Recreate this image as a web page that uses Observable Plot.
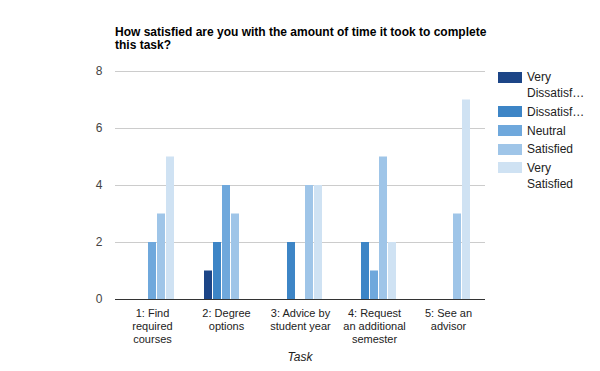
<!DOCTYPE html>
<html>
<head>
<meta charset="utf-8">
<script src="https://cdn.jsdelivr.net/npm/d3@7"></script>
<script src="https://cdn.jsdelivr.net/npm/@observablehq/plot@0.6"></script>
<style>
  html, body { margin: 0; padding: 0; background: #fff; }
  #wrap { position: relative; width: 600px; height: 371px; font-family: "Liberation Sans", Arial, sans-serif; }
  #wrap svg { position: absolute; left: 0; top: 0; }
  #title { position: absolute; left: 115px; top: 25.6px; width: 372px; font-size: 12px; font-weight: bold; line-height: 13.5px; color: #000; }
  #xlabel { position: absolute; left: 115px; width: 370px; top: 349.7px; text-align: center; font-size: 12px; font-style: italic; line-height: 14px; color: #222; }
  #legend { position: absolute; left: 498px; top: 69.2px; font-size: 12px; color: #222; }
  .item { display: flex; align-items: flex-start; line-height: 16px; margin-bottom: 2.7px; }
  .sw { width: 24px; height: 11px; margin-top: 2.5px; margin-right: 5px; flex: none; }
</style>
</head>
<body>
<div id="wrap">
  <div id="title"></div>
  <div id="xlabel"></div>
  <div id="legend"></div>
</div>
<script>
const titleText = "How satisfied are you with the amount of time it took to complete this task?";
const xTitle = "Task";
const tasks = ["1: Find required courses", "2: Degree options", "3: Advice by student year", "4: Request an additional semester", "5: See an advisor"];
const taskTickLabels = ["1: Find\nrequired\ncourses", "2: Degree\noptions", "3: Advice by\nstudent year", "4: Request\nan additional\nsemester", "5: See an\nadvisor"];
const series = ["Very Dissatisfied", "Dissatisfied", "Neutral", "Satisfied", "Very Satisfied"];
const legendLabels = ["Very\nDissatisf…", "Dissatisf…", "Neutral", "Satisfied", "Very\nSatisfied"];
const colors = ["#1c4587", "#3d85c6", "#6fa8dc", "#9fc5e8", "#cfe2f3"];
const veryDissatisfied = [0, 1, 0, 0, 0];
const dissatisfied     = [0, 2, 2, 2, 0];
const neutral          = [2, 4, 0, 1, 0];
const satisfied        = [3, 3, 4, 5, 3];
const verySatisfied    = [5, 0, 4, 2, 7];
const yTicks = [0, 2, 4, 6, 8];

const seriesValues = [veryDissatisfied, dissatisfied, neutral, satisfied, verySatisfied];
const data = [];
tasks.forEach((t, i) => series.forEach((s, j) => data.push({task: t, series: s, value: seriesValues[j][i]})));
const tickMap = new Map(tasks.map((t, i) => [t, taskTickLabels[i]]));

const chart = Plot.plot({
  width: 600,
  height: 371,
  marginLeft: 115,
  marginRight: 115,
  marginTop: 71,
  marginBottom: 72,
  style: {fontFamily: '"Liberation Sans", Arial, sans-serif', background: "transparent"},
  fx: {domain: tasks, padding: 0, round: false, label: null, axis: null},
  x: {domain: series, paddingInner: 1 / 9, paddingOuter: 1.6667, round: false, axis: null},
  y: {domain: [0, 8], label: null},
  color: {domain: series, range: colors},
  marks: [
    Plot.gridY(yTicks.filter(d => d > 0), {stroke: "#cccccc", strokeOpacity: 1}),
    Plot.barY(data.filter(d => d.value > 0), {fx: "task", x: "series", y: "value", fill: "series"}),
    Plot.ruleY([0], {stroke: "#333333", strokeWidth: 1}),
    Plot.axisY(yTicks, {tickSize: 0, tickPadding: 13, fontSize: 12, fill: "#444444", label: null}),
    Plot.axisFx({anchor: "bottom", tickSize: 0, tickPadding: 8, fontSize: 11, fill: "#222222", lineHeight: 1.18, tickFormat: d => tickMap.get(d), label: null})
  ]
});
const wrap = document.getElementById("wrap");
wrap.insertBefore(chart, wrap.firstChild);

document.getElementById("title").textContent = titleText;
document.getElementById("xlabel").textContent = xTitle;
const legend = document.getElementById("legend");
series.forEach((s, i) => {
  const item = document.createElement("div");
  item.className = "item";
  const sw = document.createElement("div");
  sw.className = "sw";
  sw.style.background = colors[i];
  const lab = document.createElement("div");
  lab.style.whiteSpace = "pre";
  lab.textContent = legendLabels[i];
  item.appendChild(sw);
  item.appendChild(lab);
  legend.appendChild(item);
});
</script>
</body>
</html>
